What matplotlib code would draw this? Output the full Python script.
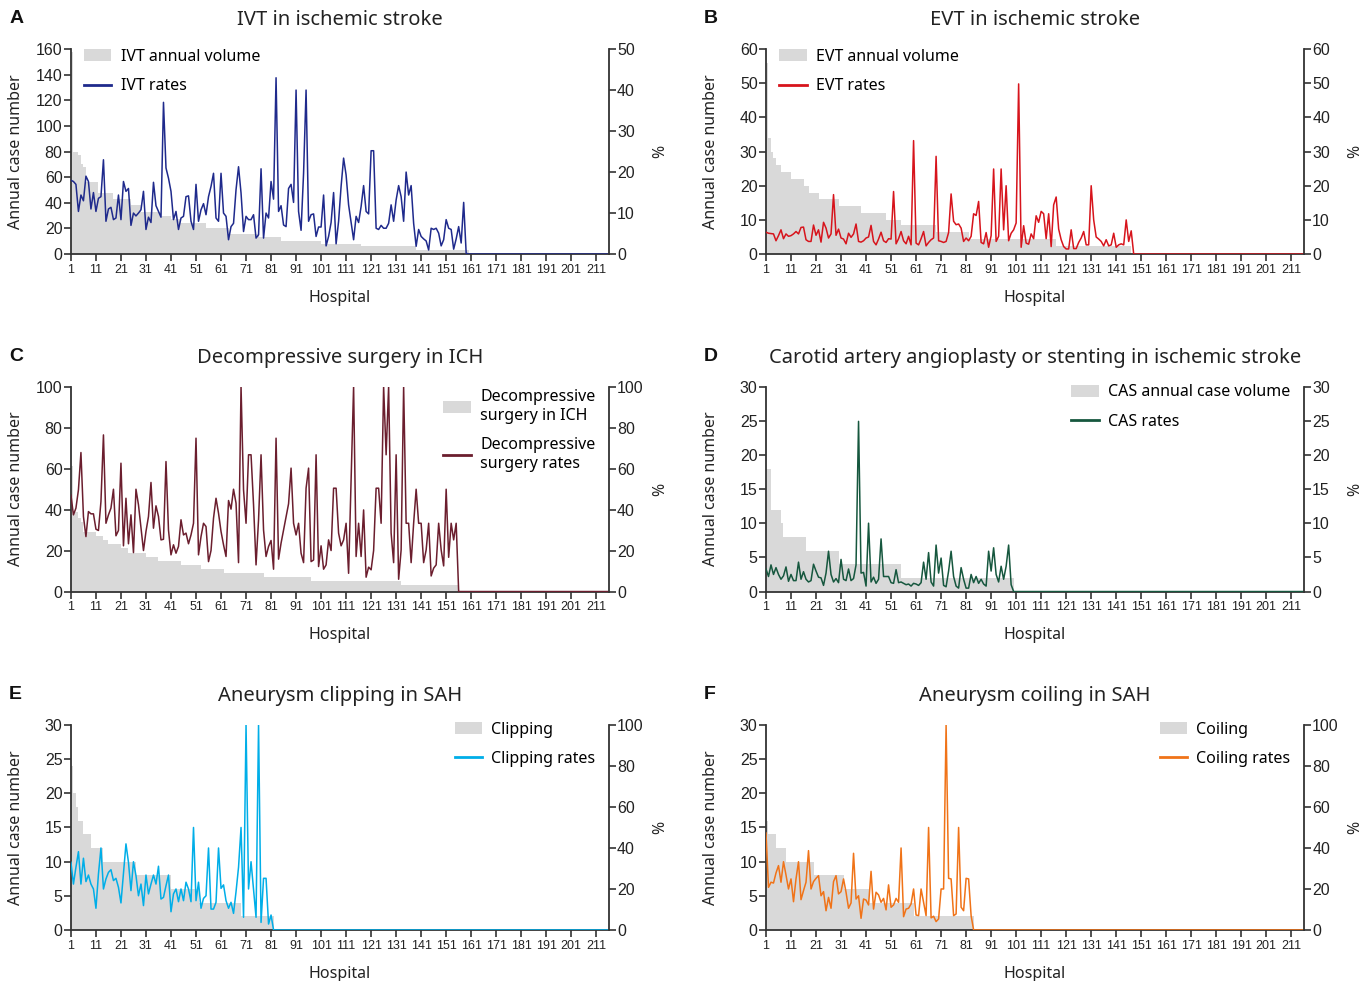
import numpy as np
import matplotlib
matplotlib.use('Agg')
import matplotlib.pyplot as plt
from matplotlib.patches import Patch
from matplotlib.lines import Line2D

plt.rcParams['font.family'] = ['Noto Sans', 'DejaVu Sans']

# Hospitals on the x axis
n_hosp = 216
hospitals = np.arange(1, n_hosp + 1)
hospital_ticks = list(range(1, 212, 10))

# A - IVT (volume given as level / number of hospitals at that level)
ivt_vol_levels = [158, 80, 77, 70, 68, 56, 48, 43, 38, 33, 30, 27, 24, 20, 16, 13, 10, 8, 6, 3]
ivt_vol_counts = [1, 2, 1, 1, 1, 5, 6, 7, 4, 8, 4, 4, 10, 9, 12, 9, 16, 16, 22, 21]
ivt_rates = [
    18, 17.7, 17, 10.4, 14.4, 13, 19, 17.7, 11, 15,
    10.4, 13.6, 14, 23, 8, 11, 11.4, 8.4, 8.8, 14.4,
    8.4, 17.7, 15.3, 16, 7, 10, 9.3, 10, 10.8, 15.3,
    6, 9, 7.7, 17.5, 11.8, 10.4, 9, 37, 21, 18.5,
    15.3, 8.4, 10.4, 6, 8.8, 9.2, 14, 14.2, 8, 6,
    17, 8, 10.8, 12.3, 9.6, 14, 16.5, 19.7, 8.8, 8,
    19.7, 10, 9.2, 3.5, 6.7, 7.5, 15.7, 21.3, 14.9, 5.5,
    9.2, 8.4, 8.4, 9.6, 3.9, 4.7, 20.8, 3.9, 10, 8.8,
    17.7, 13.4, 43, 10.4, 11.8, 7.1, 6.7, 16, 17, 12.6,
    40, 10.4, 5.8, 19.7, 40, 8, 9.6, 9.8, 4.3, 6.6,
    6.6, 14.4, 2, 4.3, 7.7, 15, 2.5, 8, 16.5, 23.4,
    19.3, 12, 7.7, 3.5, 9.2, 7.7, 11.6, 16.7, 10.4, 9.8,
    25.2, 25.2, 6.3, 6, 7, 6.3, 6.3, 7.5, 12, 8,
    13.2, 16.7, 14, 8, 20, 14.4, 16.7, 7.5, 1.9, 6,
    4.3, 3.7, 3.2, 1, 6.3, 6, 6.3, 5.1, 2, 3.5,
    8.4, 6.3, 6, 1.2, 3.7, 6.7, 2.7, 12.6, 0.2,
]

# B - EVT
evt_vol_levels = [56, 34, 30, 28, 26, 24, 22, 20, 18, 16, 14, 12, 10, 8.5, 6.5, 4.5, 2.5]
evt_vol_counts = [1, 1, 1, 1, 2, 4, 5, 2, 4, 8, 9, 10, 6, 14, 13, 35, 30]
evt_rates = [
    6.4, 6.1, 6, 5.9, 3.9, 5.4, 7.1, 4.5, 5.9, 5.2,
    5.4, 5.9, 6.6, 5.9, 7.8, 7.9, 4.2, 3.7, 3.7, 8.5,
    5.5, 7.1, 3.5, 9.3, 7.6, 4.7, 5.9, 17.4, 5.5, 7.3,
    4.7, 4.4, 3, 6.1, 4.9, 5.9, 8.8, 3.7, 3.5, 3.9,
    4.7, 5, 8.4, 3.7, 2.7, 4.4, 6.4, 3.9, 3.4, 4.5,
    4.4, 18.3, 3, 4.5, 6.6, 3.9, 3, 5.2, 2.7, 33.2,
    3.2, 2.7, 4.5, 6.6, 2.4, 3.4, 4.2, 4.7, 28.6, 3.9,
    3.7, 3.4, 3.7, 6.3, 17.6, 9.6, 8.6, 8.8, 7.6, 3.7,
    4.7, 3.9, 5.2, 11.8, 11.3, 15.4, 3.4, 3, 6.3, 2,
    5.4, 24.9, 3.7, 5.2, 24.9, 7.1, 20, 3.9, 6.1, 7.1,
    9.1, 49.8, 2, 8.3, 3.2, 2.9, 5.9, 4.5, 11.2, 9.3,
    12.5, 11.8, 4.5, 11.8, 2.2, 14.4, 16.7, 7.3, 4.2, 2.2,
    1.5, 1.5, 7.1, 1.6, 1.6, 3.4, 4.7, 6.6, 2.7, 2.7,
    20, 10, 5, 4.4, 3.7, 2.4, 4.2, 2.4, 2.7, 6.1,
    2, 2.7, 3, 2.7, 10, 3.7, 6.8,
]

# C - Decompressive surgery in ICH
ich_vol_levels = [61, 39, 36, 34, 29, 27, 25, 23, 21, 19, 17, 15, 13, 11, 9, 7, 5, 3]
ich_vol_counts = [1, 2, 1, 1, 5, 3, 2, 5, 3, 7, 5, 9, 8, 9, 16, 19, 36, 23]
ich_rates = [
    47, 37.4, 40.7, 49.6, 67.8, 36.6, 26.8, 39, 37.9, 37.9,
    30.4, 29.8, 43.9, 76.4, 33.3, 37.4, 40.7, 49.9, 27.2, 29.8,
    62.6, 22.3, 45.5, 23.3, 37.4, 19, 49.9, 42.3, 30.9, 20,
    29.3, 36.6, 53.2, 30.9, 41.8, 36.6, 25.2, 25.5, 63.4, 30,
    17.9, 22.8, 18.7, 22, 35, 27.6, 28.5, 23.3, 27.6, 33.3,
    74.8, 17.9, 26.8, 33.3, 31.7, 14.6, 20, 35.8, 45.5, 38.2,
    29.3, 22.8, 17.1, 44.4, 40.2, 49.9, 43.1, 14.1, 100, 49.6,
    33.3, 66.7, 66.7, 42.3, 13, 35, 66.7, 30, 17.1, 22,
    24.9, 10.9, 74.8, 15.8, 23.6, 30, 36.6, 42.8, 60.2, 33.3,
    27.6, 33.3, 18.7, 14.1, 50.4, 60.2, 14.6, 15.4, 66.7, 12.2,
    22.3, 10.9, 13, 25.2, 20, 50.4, 50.4, 28.5, 22.3, 25.2,
    33.3, 8.9, 55, 100, 17.1, 33.3, 17.1, 39.8, 7, 11.9,
    10.6, 20, 50.4, 50.4, 33.3, 100, 66.7, 100, 28.5, 14.1,
    66.7, 6, 20.3, 100, 33.3, 33.3, 14.1, 33.3, 49.9, 33.3,
    33.3, 14.1, 20.3, 33.3, 7.6, 11.4, 13, 33.3, 20.3, 12.5,
    49.9, 16.7, 33.3, 25.2, 33.3,
]

# D - CAS
cas_vol_levels = [18, 12, 10, 8, 6, 4, 2]
cas_vol_counts = [2, 4, 1, 9, 13, 25, 45]
cas_rates = [
    3.3, 2.2, 3.9, 2.5, 3.5, 2.5, 1.8, 2.3, 3.6, 1.5,
    2.5, 1.6, 1.6, 4.3, 1.8, 2.9, 1.8, 1.4, 1.6, 4,
    3, 2.1, 2, 0.9, 2.7, 5.9, 2.5, 1.4, 1.9, 1.3,
    4.7, 1.8, 1.6, 3.3, 1.6, 1.9, 3.9, 24.9, 2.7, 2.8,
    0.8, 10, 1.4, 2.1, 1.2, 1.8, 7.7, 2.2, 2.2, 2.2,
    1.3, 1.2, 3.2, 1.3, 1.4, 1.2, 1, 1.1, 0.8, 1.2,
    1.1, 0.9, 1.3, 4.3, 1.8, 5.7, 1.4, 0.8, 6.8, 2.7,
    4.9, 0.9, 0.7, 3, 5.9, 2.2, 0.8, 0.5, 3.5, 1.8,
    0.5, 0.5, 2.5, 1.3, 2.2, 1.2, 1.8, 1.1, 0.8, 5.9,
    3, 6.4, 2.5, 1.4, 3.7, 1.8, 3.7, 6.8, 1,
]

# E - Clipping
clip_vol_levels = [24, 20, 18, 16, 14, 12, 10, 8, 6, 4, 2]
clip_vol_counts = [1, 1, 1, 2, 3, 5, 13, 14, 11, 17, 13]
clip_rates = [
    33, 22.4, 30.6, 38.2, 22.4, 35, 23.6, 26.8, 22.4, 20,
    10.6, 27.3, 40, 20, 24.9, 28.1, 29.4, 24.1, 25.2, 20.8,
    13.2, 27.3, 42, 33, 19.2, 33.3, 26.5, 16.7, 22.4, 11.9,
    26.8, 17.6, 22.4, 26.8, 22.4, 31.1, 15.1, 15.9, 21.6, 26.8,
    8.9, 17.6, 20, 13.8, 20, 14.3, 23.3, 20, 13.8, 50,
    14.3, 23.3, 10.6, 15.4, 16.7, 40, 10.2, 10.2, 13.5, 40,
    20.3, 22, 14.3, 10.6, 13.5, 8.1, 18.7, 30.6, 50, 6.2,
    100, 20, 33.3, 20, 6.2, 100, 3.7, 25.2, 25.2, 2.9,
    7.3,
]

# F - Coiling
coil_vol_levels = [16, 14, 12, 10, 8, 6, 4, 2]
coil_vol_counts = [1, 3, 4, 11, 12, 10, 18, 24]
coil_rates = [
    47.3, 20.8, 23.3, 22.9, 27.8, 31.4, 23.3, 33.3, 26.8, 20,
    24.9, 13.8, 24.9, 33.3, 14.8, 19.2, 23.3, 38.7, 20, 23.6,
    25.2, 26.5, 16.7, 18.7, 9.4, 15.9, 10.6, 23.6, 26.5, 17.6,
    18.7, 24.9, 18.4, 10.6, 13.2, 37.4, 15.1, 16.7, 5.7, 15.1,
    14.6, 12.2, 28.6, 10.2, 18.4, 17.1, 13.5, 15.4, 9.8, 22,
    11.1, 12.2, 15.4, 13.5, 40, 6.5, 10.2, 10.6, 12.7, 20,
    7.3, 7, 20, 13.5, 7, 50, 5.9, 6.7, 4.1, 5.4,
    20, 20, 100, 25.2, 24.9, 7, 7.8, 50, 11.1, 9.4,
    25.2, 24.9, 7,
]

GRAY = '#d9d9d9'
SPINE = '#333333'


def pad(values):
    values = np.asarray(values, dtype=float)
    return np.concatenate([values, np.zeros(n_hosp - len(values))])


fig = plt.figure(figsize=(13.72, 9.81), dpi=100)


def draw_panel(rect, letter, title, levels, counts, rates, color, labels,
               left_ticks, right_ticks, legend_loc, legend_anchor):
    ax = fig.add_axes(rect)
    vol = pad(np.repeat(levels, counts))
    ax.bar(hospitals, vol, width=1.0, align='edge', color=GRAY, linewidth=0)
    ax.set_xlim(1, n_hosp)
    ax.set_ylim(0, left_ticks[-1])
    ax.set_xticks(hospital_ticks)
    ax.set_yticks(left_ticks)
    ax.spines['top'].set_visible(False)
    ax.spines['right'].set_visible(False)
    for s in ['left', 'bottom']:
        ax.spines[s].set_color(SPINE)
        ax.spines[s].set_linewidth(1.3)
    ax.tick_params(axis='y', length=5, width=1.2, color=SPINE, labelsize=11.5,
                   labelfontfamily='Liberation Sans', labelcolor='#222222', pad=1)
    ax.tick_params(axis='x', length=5, width=1.2, color=SPINE, labelsize=9,
                   labelfontfamily='Liberation Sans', labelcolor='#222222', pad=2)
    ax.set_ylabel('Annual case number', fontsize=11.5, color='#222222')
    ax.yaxis.set_label_coords(-0.087, 0.5)
    ax.set_xlabel('Hospital', fontsize=11.5, color='#222222')
    ax.xaxis.set_label_coords(0.5, -0.175)

    ax2 = ax.twinx()
    ax2.plot(hospitals, pad(rates), color=color, lw=1.1)
    ax2.set_ylim(0, right_ticks[-1])
    ax2.set_yticks(right_ticks)
    ax2.spines['top'].set_visible(False)
    ax2.spines['left'].set_visible(False)
    ax2.spines['bottom'].set_visible(False)
    ax2.spines['right'].set_color(SPINE)
    ax2.spines['right'].set_linewidth(1.3)
    ax2.tick_params(axis='y', length=5, width=1.2, color=SPINE, labelsize=11.5,
                    labelfontfamily='Liberation Sans', labelcolor='#222222', pad=1)
    ax2.set_ylabel('%', fontsize=11.5, color='#222222')
    ax2.yaxis.set_label_coords(1.08, 0.5)

    handles = [Patch(facecolor=GRAY, edgecolor='none'),
               Line2D([], [], color=color, lw=2)]
    ax2.legend(handles, labels, loc=legend_loc, bbox_to_anchor=legend_anchor,
               frameon=False, fontsize=11.5, handlelength=1.7, handleheight=0.8,
               handletextpad=0.6, labelspacing=0.85, borderpad=0)

    ax.set_title(title, fontsize=14.5, color='#222222', pad=17)
    x0 = rect[0] - 0.045
    y1 = rect[1] + rect[3] + 0.031
    fig.text(x0, y1, letter, fontsize=14, fontweight='bold', color='#111111',
             ha='left', va='center', family='Liberation Sans')
    return ax


w, h = 0.392, 0.209
col_x = [0.0517, 0.5583]
row_y = [0.741, 0.397, 0.052]

draw_panel([col_x[0], row_y[0], w, h], 'A', 'IVT in ischemic stroke',
           ivt_vol_levels, ivt_vol_counts, ivt_rates, '#1f2a8c',
           ['IVT annual volume', 'IVT rates'],
           list(range(0, 161, 20)), list(range(0, 51, 10)),
           'upper left', (0.01, 1.04))
draw_panel([col_x[1], row_y[0], w, h], 'B', 'EVT in ischemic stroke',
           evt_vol_levels, evt_vol_counts, evt_rates, '#d7141c',
           ['EVT annual volume', 'EVT rates'],
           list(range(0, 61, 10)), list(range(0, 61, 10)),
           'upper left', (0.01, 1.04))
draw_panel([col_x[0], row_y[1], w, h], 'C', 'Decompressive surgery in ICH',
           ich_vol_levels, ich_vol_counts, ich_rates, '#6b1e2e',
           ['Decompressive\nsurgery in ICH', 'Decompressive\nsurgery rates'],
           list(range(0, 101, 20)), list(range(0, 101, 20)),
           'upper right', (0.99, 1.025))
draw_panel([col_x[1], row_y[1], w, h], 'D',
           'Carotid artery angioplasty or stenting in ischemic stroke',
           cas_vol_levels, cas_vol_counts, cas_rates, '#16573e',
           ['CAS annual case volume', 'CAS rates'],
           list(range(0, 31, 5)), list(range(0, 31, 5)),
           'upper right', (0.99, 1.05))
draw_panel([col_x[0], row_y[2], w, h], 'E', 'Aneurysm clipping in SAH',
           clip_vol_levels, clip_vol_counts, clip_rates, '#00aee8',
           ['Clipping', 'Clipping rates'],
           list(range(0, 31, 5)), list(range(0, 101, 20)),
           'upper right', (0.99, 1.055))
draw_panel([col_x[1], row_y[2], w, h], 'F', 'Aneurysm coiling in SAH',
           coil_vol_levels, coil_vol_counts, coil_rates, '#f07318',
           ['Coiling', 'Coiling rates'],
           list(range(0, 31, 5)), list(range(0, 101, 20)),
           'upper right', (0.99, 1.055))

fig.savefig('out.png', dpi=100)
